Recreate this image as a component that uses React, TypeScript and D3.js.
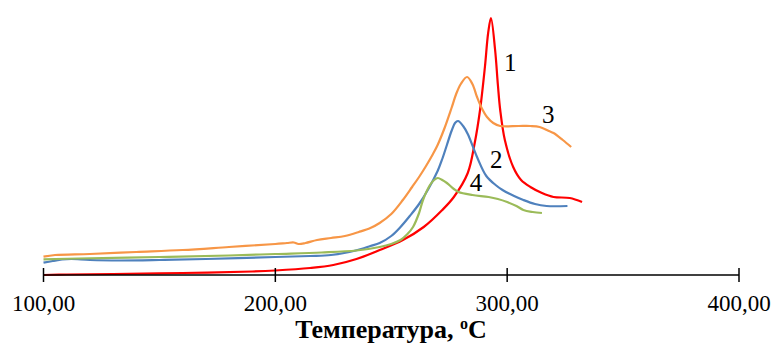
import * as d3 from "d3";
import { useEffect, useRef } from "react";

// temperature, °C / signal (arbitrary units)
const series1: [number, number][] = [
  [100, 0], [110, 0.5], [130, 1], [160, 2], [190, 3.5], [200, 4.5], [215, 7], [225, 10],
  [235, 16], [245, 25], [255, 35], [264, 48], [272, 65], [277, 78], [283, 102], [286, 132],
  [288.3, 165], [290.4, 208], [291.8, 242], [293, 257], [294.8, 225], [296, 190], [297, 165],
  [299, 135], [302.6, 108], [306, 95], [310, 88], [315, 82], [320, 78], [327, 77], [332.3, 73],
];
const series2: [number, number][] = [
  [100, 12.3], [104, 14], [108, 15.5], [112, 16], [120, 15], [133, 14.5], [150, 15], [170, 16],
  [200, 18], [215, 19], [224, 20], [232, 23], [237, 26], [241, 29], [245, 32], [250, 39],
  [254, 48], [258, 59], [262, 71], [266, 86], [270, 104], [272, 116], [274, 130], [276, 144],
  [277.5, 152], [278.8, 154], [281, 149], [283, 141], [287, 118], [291, 99], [295, 90],
  [298, 85], [303, 79], [307, 75], [312, 71], [317, 69], [326, 69],
];
const series3: [number, number][] = [
  [100, 18.3], [105, 20], [120, 21], [140, 23], [160, 25], [180, 28], [200, 31], [205, 32],
  [208, 32.5], [210, 31], [213, 32], [218, 35], [224, 37], [230, 39], [236, 43], [241, 47],
  [245, 52], [250, 61], [255, 75], [259, 88], [262, 98], [265, 109], [268, 121], [270, 130],
  [273, 147], [276, 167], [278, 181], [280, 191], [282.7, 198], [285, 191], [287, 178],
  [289, 167], [291.3, 158], [294, 152], [297, 149], [305, 149], [310, 149], [314, 148],
  [318, 144], [320, 142], [324, 135], [327.6, 128],
];
const series4: [number, number][] = [
  [100, 15.7], [115, 16.5], [150, 18], [180, 19.5], [200, 21], [220, 22.5], [235, 24.5],
  [245, 28], [250, 31], [254, 35], [257, 41], [259.4, 48], [262, 62], [263.7, 75], [266.7, 90],
  [268.5, 95], [270.1, 97], [272, 95], [274, 92], [277, 86], [279, 83], [285, 80], [292, 78],
  [296, 76], [300, 73], [304, 69], [307, 65], [311, 63], [315, 62],
];

const seriesList = [
  { name: "1", data: series1, color: "#ff0000", label: [301.3, 204] },
  { name: "2", data: series2, color: "#4f81bd", label: [295.3, 107] },
  { name: "3", data: series3, color: "#f79646", label: [317.7, 152] },
  { name: "4", data: series4, color: "#9bbb59", label: [286.6, 84] },
];

const xTicks = [100, 200, 300, 400];

const FONT = "'Liberation Serif', 'Times New Roman', serif";

const App = () => {
  const ref = useRef<SVGSVGElement | null>(null);

  useEffect(() => {
    const width = 774;
    const height = 347;
    const margin = { top: 0, right: 35, bottom: 72, left: 43.5 };

    const svg = d3.select(ref.current);
    svg.selectAll("*").remove();

    const x = d3.scaleLinear().domain([100, 400]).range([margin.left, width - margin.right]);
    const y = d3.scaleLinear().domain([0, 275]).range([height - margin.bottom, margin.top]);

    const line = d3
      .line<[number, number]>()
      .x((d) => x(d[0]))
      .y((d) => y(d[1]))
      .curve(d3.curveCatmullRom.alpha(0.5));

    seriesList.forEach((s) => {
      svg
        .append("path")
        .datum(s.data)
        .attr("fill", "none")
        .attr("stroke", s.color)
        .attr("stroke-width", 2.2)
        .attr("stroke-linejoin", "round")
        .attr("d", line);
    });

    // x axis with cross ticks
    const axis = svg.append("g").attr("transform", `translate(0, ${y(0)})`);
    axis
      .append("line")
      .attr("x1", x(100))
      .attr("x2", x(400))
      .attr("stroke", "#000")
      .attr("stroke-width", 1.5);
    axis
      .selectAll(".tick")
      .data(xTicks)
      .enter()
      .append("line")
      .attr("x1", (d) => x(d))
      .attr("x2", (d) => x(d))
      .attr("y1", -7)
      .attr("y2", 7)
      .attr("stroke", "#000")
      .attr("stroke-width", 1.5);
    axis
      .selectAll(".tick-label")
      .data(xTicks)
      .enter()
      .append("text")
      .attr("x", (d) => x(d))
      .attr("y", 36)
      .attr("text-anchor", "middle")
      .attr("font-family", FONT)
      .attr("font-size", 23)
      .attr("fill", "#000")
      .text((d) => d.toFixed(2).replace(".", ","));

    const title = svg
      .append("text")
      .attr("x", 391)
      .attr("y", 338)
      .attr("text-anchor", "middle")
      .attr("font-family", FONT)
      .attr("font-size", 26)
      .attr("font-weight", "bold")
      .attr("fill", "#000");
    title.append("tspan").text("Температура, ");
    title.append("tspan").attr("font-size", 16).attr("dy", -9).text("o");
    title.append("tspan").attr("dy", 9).text("C");

    svg
      .selectAll(".series-label")
      .data(seriesList)
      .enter()
      .append("text")
      .attr("x", (d) => x(d.label[0]))
      .attr("y", (d) => y(d.label[1]))
      .attr("text-anchor", "middle")
      .attr("font-family", FONT)
      .attr("font-size", 25)
      .attr("fill", "#000")
      .text((d) => d.name);
  }, []);

  return (
    <svg
      ref={ref}
      width={774}
      height={347}
      style={{ position: "absolute", left: 0, top: 0, background: "#fff" }}
    />
  );
};

export default App;
